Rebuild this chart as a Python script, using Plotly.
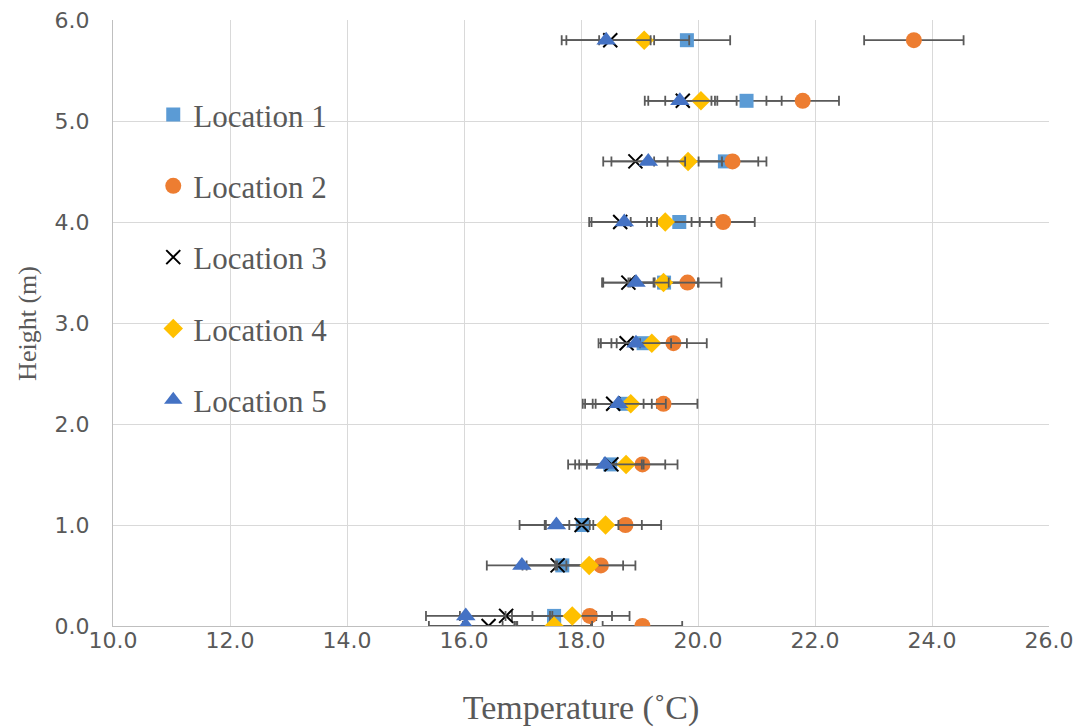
import plotly.graph_objects as go

heights = [0.0, 0.1, 0.6, 1.0, 1.6, 2.2, 2.8, 3.4, 4.0, 4.6, 5.2, 5.8]

loc1_temp = [17.54, 17.54, 17.68, 18.03, 18.50, 18.75, 19.07, 19.42, 19.68, 20.46, 20.83, 19.81]
loc1_err = [0.63, 0.72, 0.61, 0.63, 0.60, 0.55, 0.55, 0.58, 0.55, 0.57, 0.60, 0.74]

loc2_temp = [19.05, 18.15, 18.34, 18.76, 19.05, 19.41, 19.58, 19.82, 20.43, 20.59, 21.79, 23.69]
loc2_err = [0.68, 0.68, 0.59, 0.61, 0.60, 0.58, 0.57, 0.58, 0.54, 0.58, 0.62, 0.85]

loc3_temp = [16.42, 16.72, 17.60, 18.01, 18.52, 18.55, 18.78, 18.81, 18.67, 18.93, 19.74, 18.50]
loc3_err = [0.44, 0.79, 0.60, 0.63, 0.55, 0.52, 0.48, 0.45, 0.53, 0.55, 0.59, 0.75]

loc4_temp = [17.54, 17.85, 18.14, 18.42, 18.77, 18.85, 19.21, 19.41, 19.44, 19.83, 20.05, 19.08]
loc4_err = [0.65, 0.68, 0.58, 0.62, 0.67, 0.60, 0.60, 0.60, 0.59, 0.58, 0.61, 0.77]

loc5_temp = [16.03, 16.03, 16.99, 17.58, 18.41, 18.64, 18.94, 18.94, 18.74, 19.15, 19.69, 18.43]
loc5_err = [0.63, 0.68, 0.60, 0.63, 0.63, 0.57, 0.60, 0.56, 0.56, 0.63, 0.60, 0.76]

series = [
    ("Location 1", loc1_temp, loc1_err, "square", "#5B9BD5", 14),
    ("Location 2", loc2_temp, loc2_err, "circle", "#ED7D31", 16),
    ("Location 3", loc3_temp, loc3_err, "x-thin", "#000000", 14),
    ("Location 4", loc4_temp, loc4_err, "diamond", "#FFC000", 15),
    ("Location 5", loc5_temp, loc5_err, "triangle-up", "#4472C4", 17),
]

fig = go.Figure()
for name, temps, errs, sym, col, size in series:
    marker = dict(symbol=sym, color=col, size=size)
    if sym == "x-thin":
        marker["line"] = dict(color=col, width=2)
    fig.add_trace(go.Scatter(
        x=temps, y=heights, mode="markers", name=name,
        legendgroup=name,
        marker=marker,
        error_x=dict(type="data", array=errs, visible=True,
                     color="#5a5a5a", thickness=1.8, width=5),
    ))

fig.update_layout(
    width=1073, height=720,
    margin=dict(l=105, r=32, t=12, b=102, autoexpand=False),
    paper_bgcolor="white", plot_bgcolor="white",
    showlegend=True,
    legend=dict(
        x=0.043, y=0.888, xanchor="left", yanchor="top",
        font=dict(family="Liberation Serif", size=31, color="#595959"),
        bgcolor="rgba(0,0,0,0)", tracegroupgap=28,
        itemwidth=30,
    ),
    xaxis=dict(
        range=[10, 26], dtick=2, tick0=10, tickformat=".1f",
        showgrid=True, gridcolor="#D9D9D9", gridwidth=1.3,
        zeroline=False, showline=True, linecolor="#BFBFBF", linewidth=1.3,
        automargin=False, ticklabeloverflow="allow",
        tickfont=dict(family="DejaVu Sans", size=22, color="#595959"),
        ticklabelstandoff=-6,
        title=dict(text="Temperature (˚C)",
                   font=dict(family="Liberation Serif", size=34, color="#595959"),
                   standoff=43),
    ),
    yaxis=dict(
        range=[0, 6], dtick=1, tick0=0, tickformat=".1f",
        showgrid=True, gridcolor="#D9D9D9", gridwidth=1.3,
        zeroline=False, showline=True, linecolor="#BFBFBF", linewidth=1.3,
        automargin=False, ticklabeloverflow="allow",
        tickfont=dict(family="DejaVu Sans", size=22, color="#595959"),
        ticklabelstandoff=18,
    ),
    annotations=[dict(
        text="Height (m)", textangle=-90, showarrow=False,
        xref="paper", yref="paper", x=-0.092, y=0.5,
        xanchor="center", yanchor="middle",
        font=dict(family="Liberation Serif", size=26, color="#595959"),
    )],
)

fig.write_html("out.html")
